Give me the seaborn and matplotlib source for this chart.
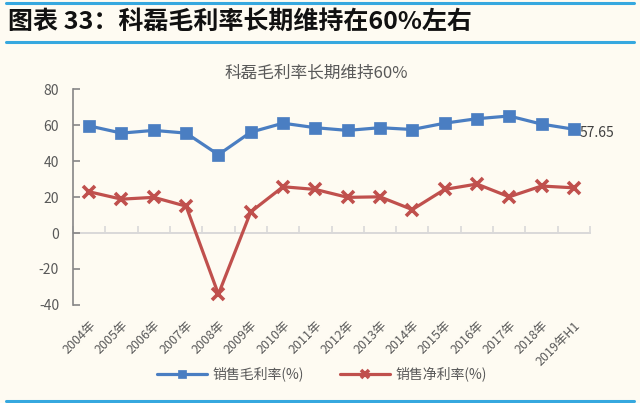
import matplotlib
matplotlib.use("Agg")
import matplotlib.pyplot as plt
from matplotlib.lines import Line2D
import seaborn as sns
import pandas as pd
import numpy as np

# ---- data ----
years = ["2004年", "2005年", "2006年", "2007年", "2008年", "2009年", "2010年", "2011年",
         "2012年", "2013年", "2014年", "2015年", "2016年", "2017年", "2018年", "2019年H1"]
gross_margin = [59.5, 55.5, 57.0, 55.5, 43.5, 56.0, 61.0, 58.5,
                57.0, 58.5, 57.5, 61.0, 63.5, 65.0, 60.5, 57.65]
net_margin = [22.9, 18.8, 19.8, 14.9, -34.0, 11.7, 25.7, 24.2,
              19.8, 20.1, 13.0, 24.2, 27.2, 20.1, 26.1, 25.1]
series_names = ["销售毛利率(%)", "销售净利率(%)"]
header_title = "图表 33：科磊毛利率长期维持在60%左右"
chart_title = "科磊毛利率长期维持60%"
y_ticks = [-40, -20, 0, 20, 40, 60, 80]

# ---- style ----
sns.set_theme(style="white")
plt.rcParams["font.family"] = ["Noto Sans CJK SC", "DejaVu Sans"]
plt.rcParams["axes.unicode_minus"] = False

bg = "#FEFBF2"
blue = "#4A7EC2"
red = "#C0504D"
gray_text = "#595959"
rule_blue = "#36A8DF"

fig = plt.figure(figsize=(6.4, 4.03), dpi=100, facecolor=bg)
ax = fig.add_axes([73 / 640, 98 / 403, 517 / 640, 216 / 403])
ax.set_facecolor(bg)

df = pd.DataFrame({"pos": np.arange(len(years)), "year": years,
                   "gross": gross_margin, "net": net_margin})

sns.lineplot(data=df, x="pos", y="gross", ax=ax, color=blue, marker="s",
             markersize=8.5, linewidth=2.3, markeredgecolor=blue,
             markeredgewidth=0.5, label=series_names[0], zorder=3)
sns.lineplot(data=df, x="pos", y="net", ax=ax, color=red, marker="x",
             markersize=8, linewidth=2.3, markeredgecolor=red,
             markeredgewidth=2.6, label=series_names[1], zorder=3)

ax.set_xlim(-0.5, len(years) - 0.5)
ax.set_ylim(-40, 80)
ax.set_yticks(y_ticks)
ax.set_yticklabels([str(v) for v in y_ticks])
ax.set_xticks(df["pos"])
ax.set_xticklabels(years, rotation=45, ha="right", rotation_mode="anchor")
ax.set_xlabel("")
ax.set_ylabel("")
ax.tick_params(axis="x", length=0, pad=10, labelsize=9, labelcolor=gray_text)
ax.tick_params(axis="y", direction="in", length=5, width=1.2, color="#868686",
               pad=10, labelsize=10, labelcolor=gray_text, left=True)
for s in ["top", "right", "bottom"]:
    ax.spines[s].set_visible(False)
ax.spines["left"].set_color("#868686")
ax.spines["left"].set_linewidth(1.2)

# zero line with category boundary ticks
sec = ax.secondary_xaxis(1 / 3)
sec.set_xticks(np.arange(-0.5, len(years), 1.0))
sec.set_xticklabels([])
sec.tick_params(direction="in", length=5, width=1.2, color="#D9D9D9")
sec.spines["bottom"].set_color("#D9D9D9")
sec.spines["bottom"].set_linewidth(1.4)

ax.annotate(f"{gross_margin[-1]:.2f}", xy=(df["pos"].iloc[-1], gross_margin[-1]),
            xytext=(4, -3), textcoords="offset points", ha="left", va="center",
            fontsize=10, color="#404040")

handles, labels = ax.get_legend_handles_labels()
ax.get_legend().remove()
fig.legend(handles, labels, loc="center", bbox_to_anchor=(0.503, 1 - 374 / 403),
           ncol=2, frameon=False, handlelength=3.6, columnspacing=2.6,
           handletextpad=0.4, fontsize=10, labelcolor=gray_text, markerscale=0.7)

fig.text(0.494, 1 - 73 / 403, chart_title, ha="center", va="center",
         fontsize=12, color=gray_text)
fig.text(8 / 640, 1 - 22 / 403, header_title, ha="left", va="center",
         fontsize=18, fontweight="bold", color="#111111")

for yy in [3, 42, 401]:
    fig.add_artist(Line2D([6 / 640, 634 / 640], [1 - yy / 403] * 2,
                          color=rule_blue, linewidth=2.2))

fig.savefig("out.png", dpi=100, facecolor=bg)
